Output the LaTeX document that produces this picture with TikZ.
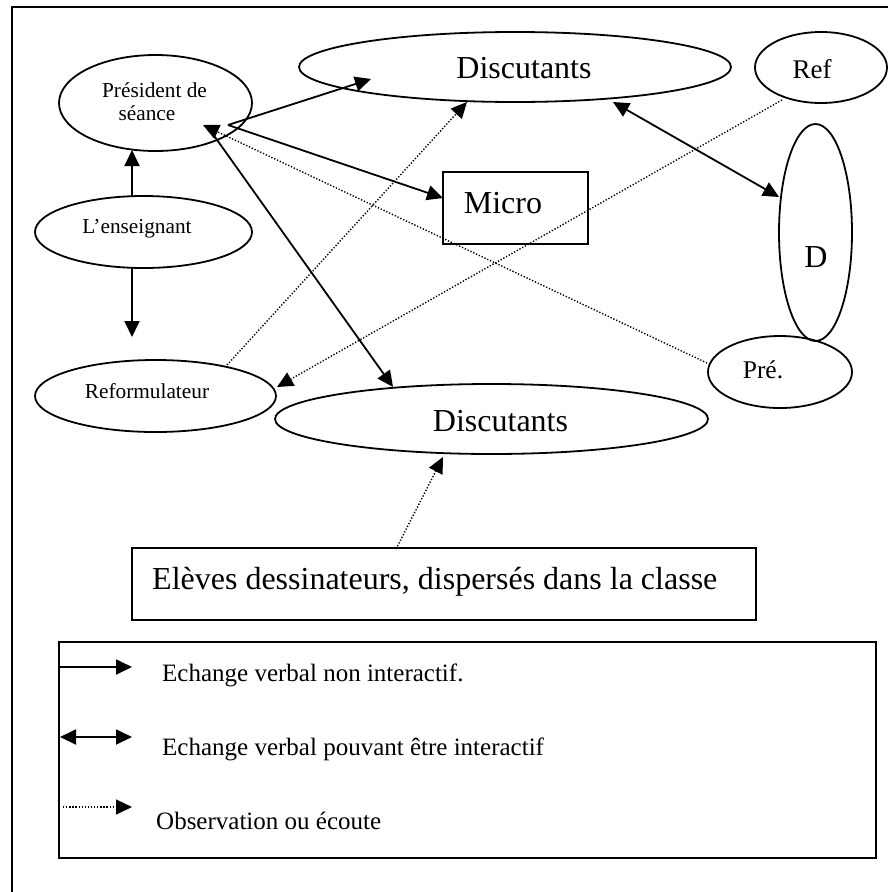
\documentclass[tikz,border=0pt]{standalone}
\usepackage{fontspec}
\setmainfont{Liberation Serif}
\usetikzlibrary{shapes.geometric,arrows.meta}
\tikzset{
  shp/.style={draw, line width=1.8pt, inner sep=0pt},
  ell/.style={shp, ellipse},
  box/.style={shp, rectangle},
  lbl/.style={inner sep=0pt, anchor=base},
  conn/.style={line width=1.8pt},
  obs/.style={line width=1.4pt, dash pattern=on 1.3pt off 1.8pt},
  tipend/.style={-{Triangle[length=16pt,width=15pt]}},
  tipboth/.style={{Triangle[length=16pt,width=15pt]}-{Triangle[length=16pt,width=15pt]}},
  fs/.style={font=\fontsize{#1}{#1}\selectfont}
}
\begin{document}
\begin{tikzpicture}[x=1pt,y=-1pt]
\useasboundingbox (0,0) rectangle (888,892);
\clip (0,0) rectangle (888,892);
\fill[white] (0,0) rectangle (888,892);
% outer frame
\draw[line width=1.8pt] (12,7) rectangle (920,920);

% shapes
\node[ell, minimum width=193pt, minimum height=96pt] (pres) at (155.5,103) {};
\node[ell, minimum width=432pt, minimum height=70pt] (disctop) at (515,67) {};
\node[ell, minimum width=132pt, minimum height=71pt] (ref) at (821,67.5) {};
\node[ell, minimum width=73pt, minimum height=217pt] (dd) at (815.5,232.5) {};
\node[ell, minimum width=144pt, minimum height=72pt] (pre) at (780,372) {};
\node[ell, minimum width=217pt, minimum height=72pt] (ens) at (143.5,232) {};
\node[ell, minimum width=241pt, minimum height=72pt] (refo) at (155.5,396) {};
\node[ell, minimum width=433pt, minimum height=70pt] (discbot) at (491.5,419) {};
\node[box, minimum width=145pt, minimum height=72pt] (micro) at (515.5,208) {};
\node[box, minimum width=624pt, minimum height=72pt] (eleves) at (444,584) {};
\node[box, minimum width=817pt, minimum height=216pt] (legend) at (467.5,750) {};

% texts
\node[lbl, fs=21.3] (tpres1) at (154.5,97) {Président de};
\node[lbl, fs=21.3] (tpres2) at (147,120) {séance};
\node[lbl, fs=32] (tdisctop) at (524,78) {Discutants};
\node[lbl, fs=27] (tref) at (812,78) {Ref};
\node[lbl, fs=32] (tmicro) at (503,213) {Micro};
\node[lbl, fs=32] (tdd) at (816,267) {D};
\node[lbl, fs=21.3] (tens) at (137,233) {L’enseignant};
\node[lbl, fs=21.3] (trefo) at (147,398) {Reformulateur};
\node[lbl, fs=25.5] (tpre) at (763,378) {Pré.};
\node[lbl, fs=32] (tdiscbot) at (500.5,431) {Discutants};
\node[lbl, fs=32, anchor=base west] (televes) at (152,589) {Elèves dessinateurs, dispersés dans la classe};
\node[lbl, fs=25, anchor=base west] (tleg1) at (162,681) {Echange verbal non interactif.};
\node[lbl, fs=25, anchor=base west] (tleg2) at (162,755) {Echange verbal pouvant être interactif};
\node[lbl, fs=25, anchor=base west] (tleg3) at (156,829) {Observation ou écoute};

% connector end points
\coordinate (ensTop) at (132,197);
\coordinate (presBot) at (132,150);
\coordinate (ensBot) at (132,267);
\coordinate (refoAbove) at (132,337);
\coordinate (presR) at (228,125);
\coordinate (disctopIn) at (371,79);
\coordinate (microL) at (443,198);
\coordinate (presIn) at (210,130);
\coordinate (discbotTop) at (393,387);
\coordinate (disctopBot) at (613,102);
\coordinate (ddL) at (779,197);
\coordinate (refoTop) at (227,365);
\coordinate (disctopBotL) at (467,102);
\coordinate (refBot) at (782,100);
\coordinate (refoR) at (277,387);
\coordinate (preL) at (707,363);
\coordinate (presTip) at (203,125);
\coordinate (elevesTop) at (396,549);
\coordinate (discbotBot) at (443,457);
\coordinate (lg1a) at (59,667);  \coordinate (lg1b) at (132,667);
\coordinate (lg2a) at (60,737);  \coordinate (lg2b) at (132,737);
\coordinate (lg3a) at (63,807);  \coordinate (lg3b) at (132,807);

% connectors
\draw[conn, tipend] (ensTop) -- (presBot);
\draw[conn, tipend] (ensBot) -- (refoAbove);
\draw[conn, tipend] (presR) -- (disctopIn);
\draw[conn, tipend] (presR) -- (microL);
\draw[conn, tipend] (presIn) -- (discbotTop);
\draw[conn, tipboth] (disctopBot) -- (ddL);
\draw[obs, tipend] (refoTop) -- (disctopBotL);
\draw[obs, tipend] (refBot) -- (refoR);
\draw[obs, tipend] (preL) -- (presTip);
\draw[obs, tipend] (elevesTop) -- (discbotBot);

% legend arrows
\draw[conn, tipend] (lg1a) -- (lg1b);
\draw[conn, tipboth] (lg2a) -- (lg2b);
\draw[obs, tipend] (lg3a) -- (lg3b);
\end{tikzpicture}
\end{document}
